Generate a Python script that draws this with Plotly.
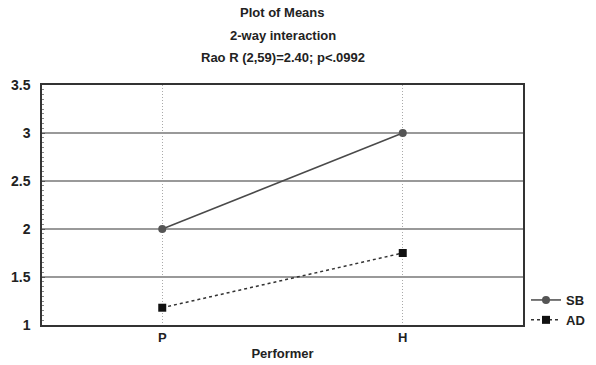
import plotly.graph_objects as go

categories = ["P", "H"]
sb_values = [2.0, 3.0]
ad_values = [1.18, 1.75]
y_ticks = [1, 1.5, 2, 2.5, 3, 3.5]
y_tick_labels = ["1", "1.5", "2", "2.5", "3", "3.5"]

fig = go.Figure()
fig.add_trace(go.Scatter(
    x=categories, y=sb_values, name="<b>SB</b>", mode="lines+markers",
    line=dict(color="#4a4a4a", width=1.5),
    marker=dict(symbol="circle", size=8, color="#555555"),
))
fig.add_trace(go.Scatter(
    x=categories, y=ad_values, name="<b>AD</b>", mode="lines+markers",
    line=dict(color="#333333", width=1.5, dash="dot"),
    marker=dict(symbol="square", size=8, color="#111111"),
))

FAM = "Liberation Sans, Arial, sans-serif"
fig.update_layout(
    width=596, height=365,
    margin=dict(l=42, r=73, t=85, b=40),
    paper_bgcolor="white", plot_bgcolor="white",
    font=dict(family=FAM, size=13, color="#222222"),
    showlegend=True,
    legend=dict(xref="container", yref="container", x=526 / 596, y=1 - 335 / 365,
                xanchor="left", yanchor="bottom",
                font=dict(size=13, family=FAM, color="#222222"),
                bgcolor="rgba(0,0,0,0)", tracegroupgap=0),
)
titles = ["<b>Plot of Means</b>", "<b>2-way interaction</b>", "<b>Rao R (2,59)=2.40; p<.0992</b>"]
ys = [12, 35, 58]
for t, yy in zip(titles, ys):
    fig.add_annotation(text=t, x=0.5, xref="paper", y=1 + (85 - yy) / 240, yref="paper",
                       showarrow=False, font=dict(size=13), xanchor="center", yanchor="middle")

fig.update_xaxes(
    type="category", range=[-0.5, 1.5], automargin=False,
    showgrid=True, gridcolor="#aaaaaa", griddash="1px,2px", gridwidth=1,
    showline=True, linecolor="#333333", linewidth=1.5, mirror=True,
    ticks="", tickfont=dict(size=13, color="#222222"),
    title=dict(text="<b>Performer</b>", standoff=5, font=dict(size=13)),
    tickprefix="<b>", ticksuffix="</b>",
)
fig.update_yaxes(
    range=[1, 3.5], tickvals=y_ticks, ticktext=["<b>%s</b>" % s for s in y_tick_labels],
    automargin=False,
    showgrid=True, gridcolor="#999999", gridwidth=1.5,
    showline=True, linecolor="#333333", linewidth=1.5, mirror=True,
    ticks="inside", ticklen=3, tickcolor="#555555",
    minor=dict(ticks="inside", ticklen=2, dtick=0.05, tickcolor="#888888"),
    ticklabelstandoff=7,
    zeroline=False, tickfont=dict(size=14, color="#222222"),
)
fig.write_html("out.html", config={"displayModeBar": False},
               post_script="document.body.style.margin='0';")
